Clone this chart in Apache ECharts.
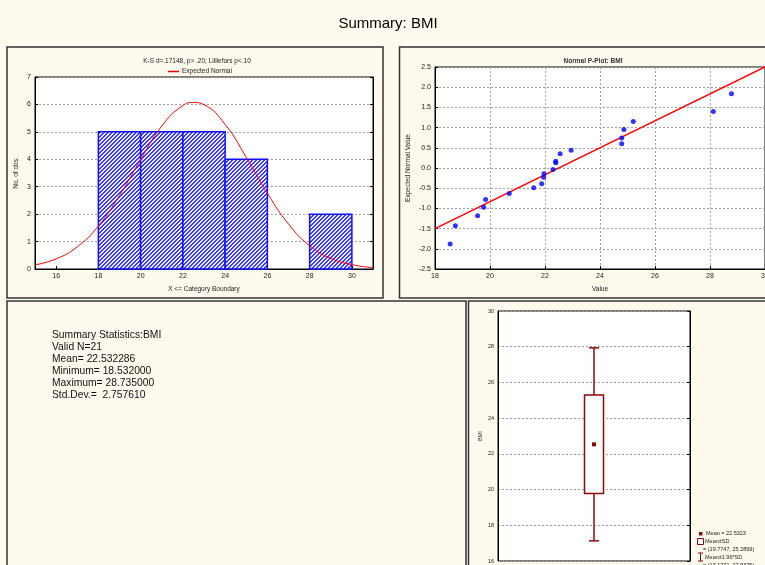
<!DOCTYPE html>
<html>
<head>
<meta charset="utf-8">
<title>Summary: BMI</title>
<script src="https://cdn.jsdelivr.net/npm/echarts@6/dist/echarts.min.js"></script>
<style>
  html, body { margin: 0; padding: 0; background: #fffaee; }
  #main { width: 765px; height: 565px; }
</style>
</head>
<body>
<div id="main"></div>
<script>
// histogram: bins (lower / upper boundary) and counts
var binLow = [18, 20, 22, 24, 28];
var binHigh = [20, 22, 24, 26, 30];
var binCount = [5, 5, 5, 4, 2];
var histXTicks = [16, 18, 20, 22, 24, 26, 28, 30];

// expected normal curve
var curveX = [15, 16, 17, 18, 19, 20, 21, 22, 22.5, 23, 24, 25, 26, 27, 28, 29, 30, 31];
var curveY = [0.15, 0.37, 0.81, 1.57, 2.68, 3.99, 5.21, 5.96, 6.07, 5.99, 5.27, 4.07, 2.76, 1.64, 0.85, 0.39, 0.16, 0.05];

// normal probability plot
var ppX = [18.55, 18.74, 19.55, 19.77, 19.84, 20.70, 21.59, 21.88, 21.95, 21.96, 22.29,
           22.39, 22.39, 22.55, 22.95, 24.79, 24.79, 24.87, 25.21, 28.12, 28.78];
var ppY = [-1.88, -1.43, -1.18, -0.97, -0.78, -0.63, -0.49, -0.39, -0.23, -0.14, -0.04,
           0.13, 0.17, 0.35, 0.44, 0.60, 0.74, 0.95, 1.15, 1.40, 1.84];
var fitX = [18, 30];
var fitY = [-1.5, 2.5];

// box plot: mean, mean +- SD, mean +- 1.96*SD
var boxMean = 22.5323;
var sdRange = [19.7747, 25.2899];
var ciRange = [17.1271, 27.9375];

// summary statistics text
var statLines = [
  'Summary Statistics:BMI',
  'Valid N=21',
  'Mean= 22.532286',
  'Minimum= 18.532000',
  'Maximum= 28.735000',
  'Std.Dev.=  2.757610'
];

var FONT = 'Liberation Sans, Arial, sans-serif';
var boxRed = '#8b0a0a';

// hatch pattern for the bars (crisp 2px blue diagonals)
var hatch = document.createElement('canvas');
hatch.width = 4; hatch.height = 4;
var hc = hatch.getContext('2d');
hc.fillStyle = '#eeeeff';
hc.fillRect(0, 0, 4, 4);
hc.fillStyle = '#3a3aff';
for (var r = 0; r < 4; r++) {
  hc.fillRect((3 - r + 4) % 4, r, 1, 1);
  hc.fillRect((4 - r + 4) % 4, r, 1, 1);
}

var histData = binLow.map(function (v, i) { return [v, binHigh[i], binCount[i]]; });
var curveData = curveX.map(function (v, i) { return [v, curveY[i]]; });
var ppData = ppX.map(function (v, i) { return [v, ppY[i]]; });
var fitData = fitX.map(function (v, i) { return [v, fitY[i]]; });

var tickLabel = { fontFamily: FONT, fontSize: 7, color: '#222', margin: 4 };
var dashed = { show: true, lineStyle: { color: '#a0a0a0', type: [2, 2], width: 1 } };
var blackLine = { show: true, onZero: false, lineStyle: { color: '#000', width: 1 } };

function panel(x, y, w, h) {
  return {
    type: 'rect',
    shape: { x: x, y: y, width: w, height: h },
    style: { fill: null, stroke: '#333', lineWidth: 1.5 },
    silent: true
  };
}

var chart = echarts.init(document.getElementById('main'));

var option = {
  backgroundColor: '#fffaee',
  animation: false,
  title: [
    { text: 'Summary: BMI', left: 383, top: 11, textAlign: 'center',
      textStyle: { fontFamily: FONT, fontSize: 15, fontWeight: 'normal', color: '#000' } },
    { text: 'K-S d=.17148, p> .20; Lilliefors p<.10', left: 192, top: 53, textAlign: 'center',
      textStyle: { fontFamily: FONT, fontSize: 6.5, fontWeight: 'normal', color: '#222' } },
    { text: 'Normal P-Plot: BMI', left: 588, top: 53, textAlign: 'center',
      textStyle: { fontFamily: FONT, fontSize: 6.5, fontWeight: 'bold', color: '#333' } }
  ],
  legend: {
    data: ['Expected Normal'],
    left: 163, top: 63,
    icon: 'rect', itemWidth: 11, itemHeight: 1.5, itemGap: 4,
    textStyle: { fontFamily: FONT, fontSize: 6.5, color: '#222', padding: [0, 0, 0, -2] }
  },
  grid: [
    { left: 35, top: 77, width: 338, height: 192, outerBoundsMode: 'none',
      show: true, backgroundColor: '#fff', borderColor: '#000', borderWidth: 1 },
    { left: 435, top: 67, width: 330, height: 202, outerBoundsMode: 'none',
      show: true, backgroundColor: '#fff', borderColor: '#000', borderWidth: 1 },
    { left: 498, top: 311, width: 192, height: 250, outerBoundsMode: 'none',
      show: true, backgroundColor: '#fff', borderColor: '#000', borderWidth: 1 }
  ],
  xAxis: [
    { gridIndex: 0, type: 'value', min: 15, max: 31,
      name: 'X <= Category Boundary', nameLocation: 'middle', nameGap: 17,
      nameTextStyle: { fontFamily: FONT, fontSize: 6.5, color: '#222' },
      axisLine: blackLine,
      axisTick: { show: true, inside: true, length: 3, customValues: histXTicks, lineStyle: { color: '#000' } },
      axisLabel: Object.assign({ customValues: histXTicks }, tickLabel),
      splitLine: { show: false } },
    { gridIndex: 1, type: 'value', min: 18, max: 30, interval: 2,
      name: 'Value', nameLocation: 'middle', nameGap: 17,
      nameTextStyle: { fontFamily: FONT, fontSize: 6.5, color: '#222' },
      axisLine: blackLine,
      axisTick: { show: true, inside: true, length: 3, lineStyle: { color: '#000' } },
      axisLabel: tickLabel, splitLine: dashed },
    { gridIndex: 2, type: 'value', min: 0, max: 1, show: false }
  ],
  yAxis: [
    { gridIndex: 0, type: 'value', min: 0, max: 7, interval: 1,
      name: 'No. of obs.', nameLocation: 'middle', nameGap: 15,
      nameTextStyle: { fontFamily: FONT, fontSize: 6.5, color: '#222' },
      axisLine: blackLine,
      axisTick: { show: true, inside: true, length: 3, lineStyle: { color: '#000' } },
      axisLabel: tickLabel, splitLine: dashed },
    { gridIndex: 0, type: 'value', min: 0, max: 7, interval: 1, position: 'right',
      axisLine: blackLine,
      axisTick: { show: true, inside: true, length: 3, lineStyle: { color: '#000' } },
      axisLabel: { show: false }, splitLine: { show: false } },
    { gridIndex: 1, type: 'value', min: -2.5, max: 2.5, interval: 0.5,
      name: 'Expected Normal Value', nameLocation: 'middle', nameGap: 23,
      nameTextStyle: { fontFamily: FONT, fontSize: 6.5, color: '#222' },
      axisLine: blackLine,
      axisTick: { show: true, inside: true, length: 3, lineStyle: { color: '#000' } },
      axisLabel: Object.assign({ formatter: function (v) { return v.toFixed(1); } }, tickLabel),
      splitLine: dashed },
    { gridIndex: 2, type: 'value', min: 16, max: 30, interval: 2,
      name: 'BMI', nameLocation: 'middle', nameGap: 15,
      nameTextStyle: { fontFamily: FONT, fontSize: 5.5, color: '#222' },
      axisLine: blackLine,
      axisTick: { show: false },
      axisLabel: { fontFamily: FONT, fontSize: 5.5, color: '#222', margin: 4 },
      splitLine: dashed },
    { gridIndex: 2, type: 'value', min: 16, max: 30, interval: 2, position: 'right',
      axisLine: blackLine,
      axisTick: { show: true, inside: true, length: 3, lineStyle: { color: '#000' } },
      axisLabel: { show: false }, splitLine: { show: false } }
  ],
  series: [
    {
      name: 'Histogram', type: 'custom', xAxisIndex: 0, yAxisIndex: 0,
      data: histData, encode: { x: [0, 1], y: 2 },
      renderItem: function (params, api) {
        var p0 = api.coord([api.value(0), api.value(2)]);
        var p1 = api.coord([api.value(1), 0]);
        return {
          type: 'rect',
          shape: { x: p0[0], y: p0[1], width: p1[0] - p0[0], height: p1[1] - p0[1] },
          style: { fill: { image: hatch, repeat: 'repeat' }, stroke: '#1010ff', lineWidth: 1.5 }
        };
      },
      z: 2
    },
    {
      name: 'Expected Normal', type: 'line', xAxisIndex: 0, yAxisIndex: 0,
      data: curveData, smooth: true, showSymbol: false, symbol: 'none',
      lineStyle: { color: '#ff0000', width: 1 }, itemStyle: { color: '#ff0000' }, z: 3
    },
    {
      name: 'P-Plot', type: 'scatter', xAxisIndex: 1, yAxisIndex: 2,
      data: ppData, symbol: 'circle', symbolSize: 5,
      itemStyle: { color: '#0000ff' }, z: 4
    },
    {
      name: 'Fit', type: 'line', xAxisIndex: 1, yAxisIndex: 2,
      data: fitData, showSymbol: false, symbol: 'none',
      lineStyle: { color: '#ff0000', width: 1.5 }, z: 3
    },
    {
      name: 'Box', type: 'custom', xAxisIndex: 2, yAxisIndex: 4,
      data: [[0.5, ciRange[0], sdRange[0], boxMean, sdRange[1], ciRange[1]]],
      encode: { x: 0, y: [1, 5] },
      renderItem: function (params, api) {
        var x = api.coord([api.value(0), 0])[0];
        var yLo = api.coord([0, api.value(1)])[1];
        var yQ1 = api.coord([0, api.value(2)])[1];
        var yM = api.coord([0, api.value(3)])[1];
        var yQ3 = api.coord([0, api.value(4)])[1];
        var yHi = api.coord([0, api.value(5)])[1];
        var ls = { stroke: boxRed, lineWidth: 1.5 };
        return {
          type: 'group',
          children: [
            { type: 'line', shape: { x1: x, y1: yHi, x2: x, y2: yQ3 }, style: ls },
            { type: 'line', shape: { x1: x, y1: yQ1, x2: x, y2: yLo }, style: ls },
            { type: 'line', shape: { x1: x - 5, y1: yHi, x2: x + 5, y2: yHi }, style: ls },
            { type: 'line', shape: { x1: x - 5, y1: yLo, x2: x + 5, y2: yLo }, style: ls },
            { type: 'rect', shape: { x: x - 9.5, y: yQ3, width: 19, height: yQ1 - yQ3 },
              style: { fill: '#fff', stroke: boxRed, lineWidth: 1.5 } },
            { type: 'rect', shape: { x: x - 2, y: yM - 2, width: 4, height: 4 },
              style: { fill: boxRed } }
          ]
        };
      },
      z: 3
    }
  ],
  graphic: [
    panel(7, 47, 376, 251),
    panel(399.5, 47, 380, 251),
    panel(7, 301, 459, 280),
    panel(468.5, 301, 310, 280),
    {
      type: 'text', left: 52, top: 329,
      style: { text: statLines.join('\n'), font: '10.3px ' + FONT, fill: '#111', lineHeight: 12 }
    },
    // box plot legend
    { type: 'rect', shape: { x: 699, y: 532, width: 3.5, height: 3.5 }, style: { fill: boxRed } },
    { type: 'text', x: 706, y: 530, style: { text: 'Mean = ' + boxMean.toFixed(4), font: '5.5px ' + FONT, fill: '#222' } },
    { type: 'rect', shape: { x: 697.5, y: 538.5, width: 6, height: 6 }, style: { fill: '#fff', stroke: boxRed, lineWidth: 1 } },
    { type: 'text', x: 705, y: 538, style: { text: 'Mean\u00b1SD', font: '5.5px ' + FONT, fill: '#222' } },
    { type: 'text', x: 703, y: 546, style: { text: '= (' + sdRange[0].toFixed(4) + ', ' + sdRange[1].toFixed(4) + ')', font: '5.5px ' + FONT, fill: '#222' } },
    { type: 'polyline', shape: { points: [[698, 553], [703, 553]] }, style: { stroke: boxRed, lineWidth: 1 } },
    { type: 'polyline', shape: { points: [[700.5, 553], [700.5, 561]] }, style: { stroke: boxRed, lineWidth: 1 } },
    { type: 'polyline', shape: { points: [[698, 561], [703, 561]] }, style: { stroke: boxRed, lineWidth: 1 } },
    { type: 'text', x: 705, y: 554, style: { text: 'Mean\u00b11.96*SD', font: '5.5px ' + FONT, fill: '#222' } },
    { type: 'text', x: 703, y: 562, style: { text: '= (' + ciRange[0].toFixed(4) + ', ' + ciRange[1].toFixed(4) + ')', font: '5.5px ' + FONT, fill: '#222' } }
  ]
};

chart.setOption(option);
window.onresize = function () {
  chart.resize();
};
</script>
</body>
</html>
